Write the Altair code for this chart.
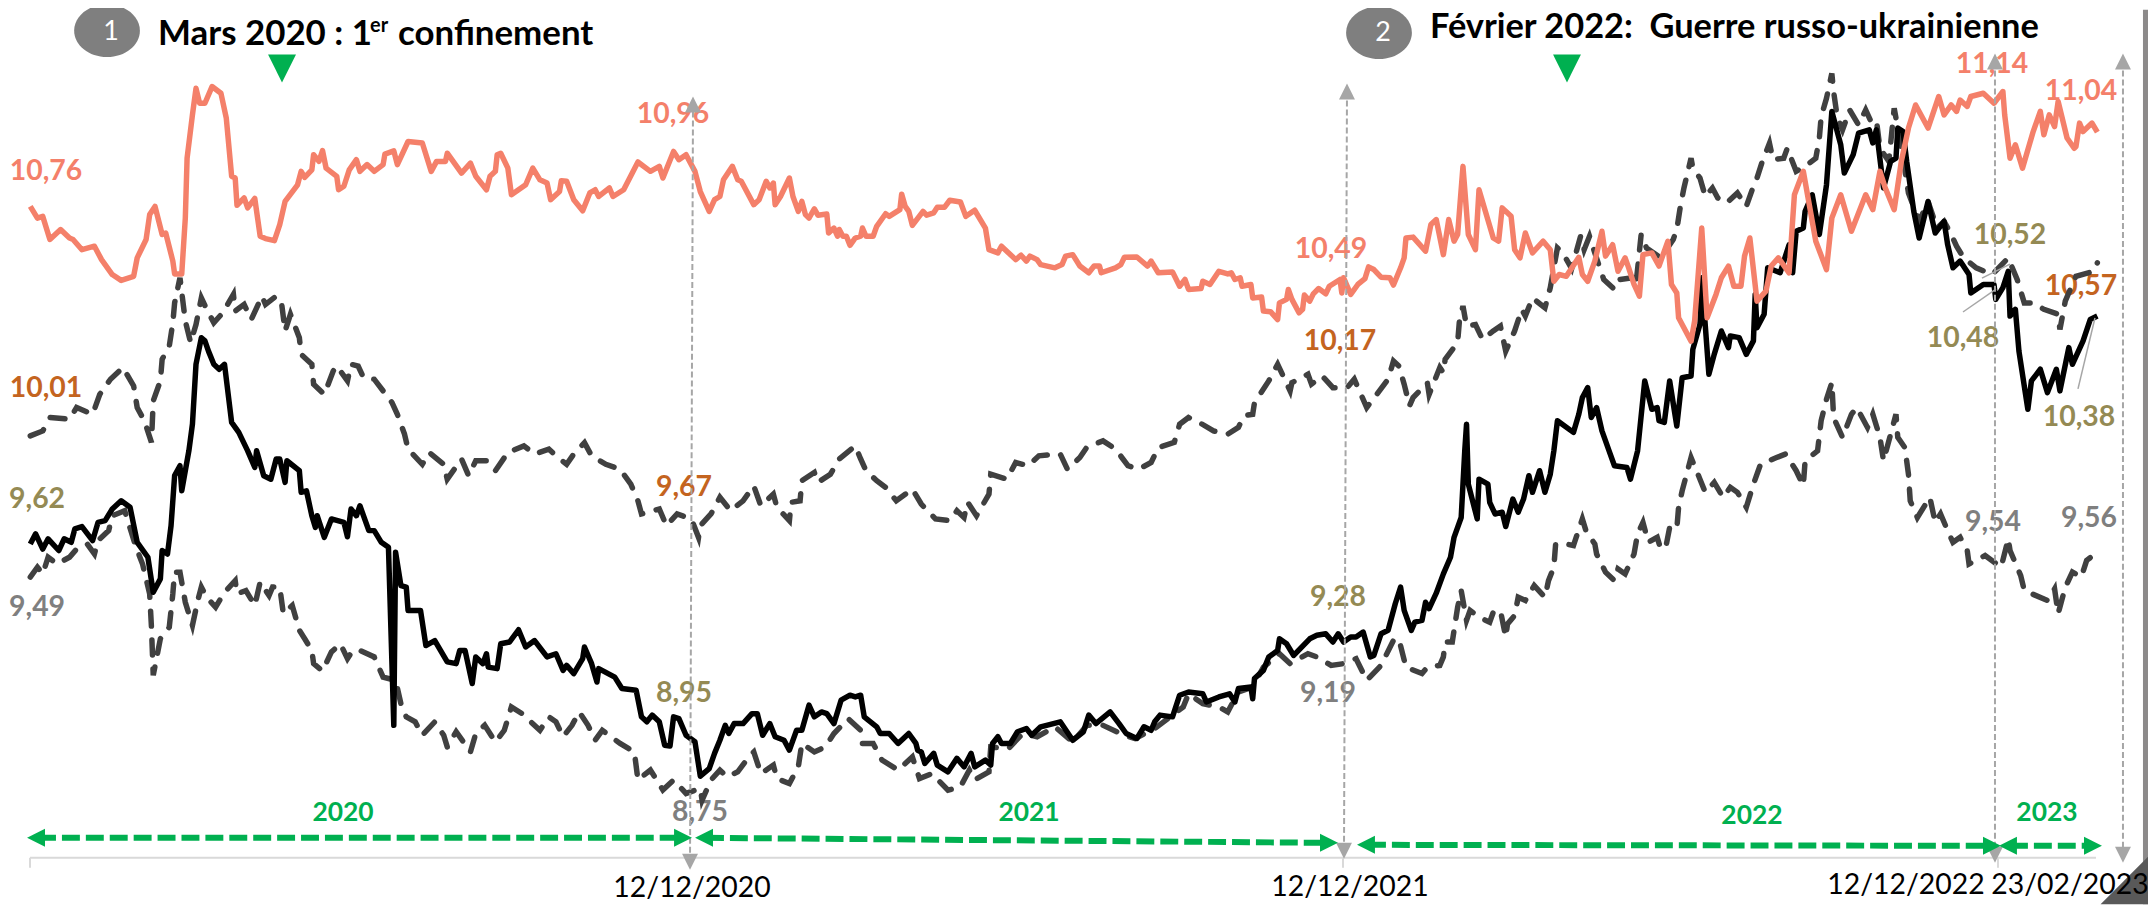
import altair as alt
import pandas as pd

# ---- data: day offsets from 5 Dec 2019 and values ----
salmon_days = [0,4,7,11,17,22,24,29,36,40,46,51,58,60,65,67,70,74,76,80,81,85,87,88,91,93,95,98,102,107,110,113,115,116,120,122,126,129,132,137,140,143,150,152,154,158,159,162,164,166,172,173,176,179,183,185,189,193,198,199,204,206,212,220,225,228,233,234,242,247,250,256,258,261,262,264,268,270,278,282,286,290,292,297,298,301,305,310,314,317,319,325,327,333,341,348,353,355,361,364,368,373,376,381,384,387,
 389,394,397,399,406,409,413,415,417,418,421,426,428,431,433,435,437,440,442,447,448,451,453,454,456,458,460,463,466,467,469,473,475,480,482,488,489,491,493,495,501,503,507,509,513,516,522,525,530,536,538,543,545,553,556,559,561,565,567,575,579,581,585,589,594,597,600,601,609,612,614,621,627,629,633,641,645,648,650,657,658,662,667,672,674,676,679,680,685,686,691,692,696,700,701,705,706,708,712,714,715,718,720,723,727,729,735,736,737,741,745,749,751,754,758,763,765,769,771,772,776,783,786,789,
 793,796,799,801,804,807,811,813,821,824,826,831,833,836,839,843,849,853,855,858,862,869,871,874,878,882,884,888,891,895,897,900,903,905,910,914,919,921,924,925,932,934,938,941,946,949,953,956,960,962,965,969,974,977,981,987,990,995,1002,1008,1011,1016,1022,1030,1034,1038,1041,1046,1050,1054,1058,1065,1071,1074,1078,1081,1083,1087,1089,1096,1102,1107,1108,1111,1114,1118,1124,1128,1130,1133,1136,1138,1143,1147,1148,1150,1152,1157,1160]
salmon_vals = [10.773,10.733,10.739,10.66,10.694,10.665,10.66,10.625,10.637,10.591,10.54,10.52,10.534,10.597,10.66,10.745,10.773,10.677,10.682,10.586,10.542,10.542,10.733,10.938,11.086,11.177,11.126,11.126,11.183,11.16,11.075,10.876,10.87,10.777,10.802,10.768,10.8,10.671,10.663,10.656,10.711,10.79,10.847,10.893,10.872,10.898,10.95,10.927,10.964,10.904,10.876,10.83,10.842,10.898,10.933,10.893,10.916,10.893,10.916,10.952,10.963,10.916,10.995,10.99,10.893,10.927,10.927,10.955,10.887,10.921,10.876,10.83,10.876,10.893,10.95,10.955,10.904,10.813,10.847,10.904,10.864,10.853,10.796,10.824,10.861,10.859,10.796,10.758,10.819,10.83,10.807,10.836,10.807,10.83,10.925,10.893,10.91,10.87,10.961,10.933,10.95,10.893,10.824,10.756,10.796,10.807,
 10.864,10.91,10.864,10.859,10.779,10.796,10.859,10.836,10.853,10.779,10.807,10.87,10.807,10.756,10.79,10.745,10.733,10.765,10.743,10.747,10.682,10.699,10.671,10.694,10.671,10.671,10.64,10.665,10.671,10.699,10.671,10.671,10.705,10.748,10.739,10.762,10.815,10.773,10.756,10.708,10.756,10.743,10.751,10.77,10.77,10.794,10.788,10.739,10.76,10.699,10.625,10.614,10.637,10.591,10.606,10.586,10.603,10.591,10.574,10.563,10.574,10.603,10.608,10.569,10.546,10.569,10.569,10.546,10.563,10.574,10.599,10.6,10.569,10.586,10.546,10.549,10.5,10.523,10.489,10.492,10.517,10.506,10.551,10.542,10.546,10.523,10.529,10.5,10.506,10.46,10.463,10.415,10.413,10.386,10.443,10.455,10.489,10.455,10.409,10.421,10.47,10.449,10.474,10.492,10.474,10.5,10.523,10.477,10.529,10.472,10.506,10.526,10.566,10.557,10.531,10.529,10.504,10.563,10.597,10.665,10.668,10.62,10.711,10.728,
 10.608,10.728,10.654,10.677,10.91,10.677,10.625,10.83,10.665,10.654,10.768,10.739,10.625,10.597,10.682,10.614,10.654,10.625,10.517,10.54,10.534,10.599,10.54,10.517,10.586,10.688,10.603,10.642,10.551,10.597,10.563,10.506,10.466,10.608,10.614,10.569,10.654,10.506,10.477,10.392,10.312,10.381,10.699,10.392,10.472,10.529,10.569,10.5,10.5,10.603,10.665,10.449,10.483,10.569,10.597,10.546,10.813,10.893,10.654,10.557,10.733,10.813,10.688,10.813,10.762,10.893,10.836,10.762,10.927,11.041,11.12,11.041,11.149,11.086,11.12,11.098,11.137,11.115,11.149,11.16,11.126,11.166,11.086,10.938,10.984,10.904,11.029,11.098,11.018,11.086,11.046,11.132,11.007,10.972,10.978,11.058,11.029,11.058,11.027]

black_days = [0,3,7,10,16,19,23,25,29,35,38,42,46,51,56,60,66,69,73,74,77,79,81,84,85,87,89,91,93,96,98,100,103,106,109,113,117,122,126,127,131,135,138,140,143,144,151,152,155,158,160,161,165,169,176,178,180,183,185,190,193,197,201,204,205,208,211,212,219,222,227,234,239,241,244,248,250,254,256,257,262,264,269,274,278,283,290,295,299,301,305,310,311,315,318,319,328,332,340,343,346,349,353,356,359,361,364,368,373,376,381,384,387,
 390,392,395,400,405,408,411,415,418,423,426,430,433,437,440,444,447,451,455,460,463,466,468,475,477,482,487,493,497,498,500,502,507,509,515,520,524,528,530,536,539,540,543,545,550,554,559,562,567,578,585,591,594,598,606,611,615,621,625,629,631,634,641,645,650,658,660,667,673,676,678,685,686,687,692,695,700,701,705,709,718,722,727,731,734,737,741,744,748,752,754,758,762,766,769,771,775,777,781,783,785,789,
 793,797,799,803,805,806,807,812,813,818,819,822,826,828,832,835,838,841,843,847,850,853,855,857,866,869,871,874,876,879,882,886,889,896,898,902,906,910,913,914,917,920,924,927,932,933,937,938,942,945,949,953,954,959,963,967,968,969,973,975,982,987,989,991,995,996,1000,1004,1008,1011,1016,1018,1023,1026,1032,1034,1036,1040,1044,1047,1048,1051,1053,1057,1060,1065,1069,1074,1076,1079,1083,1088,1089,1096,1102,1103,1107,1110,1111,1114,1116,1121,1123,1128,1132,1137,1139,1144,1146,1152,1156,1160]
black_vals = [9.618,9.653,9.601,9.636,9.596,9.636,9.624,9.67,9.678,9.63,9.692,9.698,9.738,9.766,9.744,9.624,9.573,9.453,9.499,9.596,9.584,9.681,9.852,9.886,9.8,9.869,9.937,10.028,10.233,10.324,10.313,10.278,10.233,10.216,10.233,10.034,10.0,9.937,9.88,9.937,9.852,9.84,9.909,9.909,9.829,9.903,9.869,9.795,9.8,9.715,9.675,9.715,9.641,9.704,9.692,9.643,9.738,9.715,9.749,9.664,9.664,9.624,9.607,8.998,9.59,9.476,9.471,9.391,9.391,9.271,9.288,9.215,9.209,9.254,9.254,9.141,9.232,9.209,9.243,9.197,9.192,9.277,9.283,9.325,9.266,9.288,9.232,9.243,9.186,9.203,9.175,9.226,9.266,9.209,9.146,9.192,9.163,9.124,9.118,9.027,9.01,9.033,9.01,8.93,8.927,9.027,9.021,8.964,8.942,8.824,8.85,8.902,8.947,
 8.998,8.97,9.004,9.004,9.038,9.038,8.964,9.004,8.959,8.947,8.913,8.981,8.981,9.067,9.027,9.044,9.038,9.004,9.084,9.101,9.095,9.101,9.027,8.993,8.97,8.97,8.936,8.97,8.936,8.913,8.907,8.868,8.902,8.862,8.839,8.885,8.856,8.902,8.856,8.879,8.862,8.936,8.959,8.936,8.936,8.976,8.987,8.964,8.993,9.01,8.947,8.976,9.033,9.004,9.044,9.004,8.97,8.953,8.993,8.981,9.01,9.033,9.027,9.101,9.112,9.106,9.078,9.095,9.106,9.078,9.124,9.129,9.089,9.158,9.186,9.232,9.254,9.294,9.277,9.237,9.294,9.306,9.311,9.283,9.311,9.283,9.3,9.3,9.317,9.232,9.237,9.311,9.323,9.414,9.471,9.391,9.323,9.351,9.357,9.419,9.397,9.45,
 9.516,9.573,9.641,9.709,9.937,10.028,9.823,9.704,9.84,9.823,9.761,9.721,9.727,9.678,9.772,9.727,9.772,9.852,9.795,9.869,9.795,9.857,9.937,10.04,10.0,10.062,10.119,10.153,10.051,10.085,10.005,9.937,9.886,9.88,9.84,9.937,10.176,10.079,10.085,10.04,10.034,10.176,10.022,10.187,10.193,10.284,10.37,10.529,10.199,10.267,10.347,10.29,10.33,10.324,10.267,10.313,10.472,10.358,10.404,10.563,10.546,10.642,10.546,10.688,10.699,10.756,10.813,10.677,10.847,11.098,10.984,10.887,10.95,11.024,11.035,10.99,11.035,10.836,10.927,10.938,11.041,11.029,10.927,10.756,10.665,10.79,10.682,10.722,10.642,10.563,10.586,10.54,10.477,10.506,10.506,10.455,10.495,10.551,10.398,10.421,10.278,10.079,10.176,10.216,10.136,10.216,10.142,10.29,10.233,10.313,10.386,10.398]

upper_days = [0,7,11,22,26,35,39,45,52,58,60,64,68,69,73,74,78,80,81,84,87,90,93,96,99,103,108,114,115,120,124,130,132,138,141,143,146,151,152,158,159,165,170,172,178,180,184,187,193,198,203,206,210,212,220,224,232,234,242,246,250,256,261,268,277,283,291,295,301,305,311,315,323,331,337,341,343,353,357,363,371,375,376,382,387,
 393,400,406,410,417,419,426,427,432,433,440,442,449,454,463,466,469,475,480,486,495,500,508,516,520,524,526,531,538,539,548,553,560,566,578,582,589,593,602,609,616,622,629,633,642,645,650,656,664,672,678,681,686,687,695,700,707,708,717,719,725,731,739,743,750,755,762,765,768,771,774,776,784,785,791,
 793,794,801,802,804,806,811,815,821,825,828,833,837,839,843,850,853,857,860,865,870,872,875,878,883,889,892,899,901,904,907,915,922,924,926,928,932,933,937,940,944,947,952,958,963,967,969,972,976,978,984,986,991,996,1002,1004,1005,1008,1011,1012,1014,1017,1021,1026,1030,1033,1036,1038,1043,1046,1048,1051,1054,1060,1065,1070,1074,1078,1081,1085,1092,1101,1110,1115,1119,1124,1130,1138,1139,1142,1146,1148,1158,1160]
upper_vals = [9.988,10.005,10.051,10.045,10.085,10.062,10.13,10.182,10.222,10.159,10.085,10.04,9.966,10.108,10.176,10.25,10.295,10.375,10.443,10.529,10.381,10.307,10.369,10.46,10.421,10.375,10.409,10.472,10.415,10.438,10.386,10.466,10.438,10.466,10.443,10.347,10.404,10.324,10.267,10.233,10.165,10.13,10.21,10.227,10.176,10.233,10.227,10.187,10.182,10.142,10.102,10.062,9.994,9.943,9.891,9.931,9.891,9.84,9.909,9.852,9.903,9.903,9.869,9.931,9.954,9.926,9.943,9.92,9.891,9.926,9.965,9.92,9.891,9.874,9.823,9.766,9.721,9.738,9.681,9.721,9.704,9.641,9.681,9.721,9.778,
 9.732,9.766,9.817,9.749,9.789,9.744,9.698,9.761,9.766,9.835,9.863,9.829,9.857,9.909,9.954,9.909,9.869,9.835,9.812,9.766,9.806,9.755,9.704,9.698,9.732,9.709,9.761,9.715,9.789,9.857,9.84,9.897,9.886,9.92,9.926,9.874,9.914,9.95,9.971,9.943,9.886,9.874,9.897,9.948,9.966,10.028,10.051,10.034,10.005,9.994,10.017,10.057,10.062,10.102,10.176,10.233,10.142,10.17,10.199,10.165,10.193,10.153,10.153,10.182,10.085,10.125,10.182,10.244,10.227,10.165,10.091,10.119,10.17,10.13,10.222,
 10.204,10.25,10.307,10.381,10.432,10.364,10.369,10.318,10.347,10.364,10.278,10.347,10.421,10.398,10.46,10.426,10.495,10.631,10.614,10.56,10.671,10.625,10.671,10.614,10.523,10.489,10.523,10.529,10.5,10.677,10.631,10.597,10.66,10.694,10.773,10.836,10.938,10.904,10.87,10.807,10.836,10.802,10.785,10.819,10.773,10.842,10.87,10.927,10.989,10.933,10.938,10.972,10.893,10.91,10.938,11.007,11.08,11.143,11.228,11.166,11.08,11.035,11.103,11.052,11.103,11.063,11.069,10.972,10.927,11.109,11.041,10.938,10.819,10.722,10.79,10.699,10.722,10.677,10.637,10.597,10.563,10.54,10.597,10.523,10.443,10.443,10.421,10.404,10.352,10.449,10.506,10.534,10.551,10.58]

lower_days = [0,4,7,10,15,22,26,32,36,38,44,46,53,59,63,67,68,69,73,78,80,81,84,86,87,91,94,96,99,104,109,115,116,121,126,129,134,136,140,142,147,151,154,158,159,164,169,174,178,181,185,193,198,205,208,211,216,220,227,232,234,239,247,250,255,261,266,270,276,286,291,295,299,304,308,313,317,321,331,339,341,348,355,361,368,376,377,382,387,
 391,397,404,406,410,417,419,426,431,433,440,446,451,459,466,467,473,478,487,495,499,506,515,522,527,530,538,539,549,557,565,575,585,593,602,614,620,631,641,647,650,658,667,672,678,686,692,701,707,717,722,730,737,744,750,758,765,768,772,781,784,791,
 793,794,798,799,801,803,806,808,813,819,821,825,828,829,833,835,839,844,850,852,855,856,862,866,871,873,878,879,884,889,891,895,900,902,905,908,913,915,918,920,924,925,927,932,937,940,945,950,954,958,963,967,971,980,985,991,995,996,1003,1005,1008,1011,1012,1017,1022,1025,1031,1034,1038,1040,1047,1048,1052,1054,1055,1059,1066,1069,1072,1076,1079,1083,1087,1088,1097,1106,1110,1111,1115,1117,1119,1132,1136,1138,1142,1146,1151,1154,1160]
lower_vals = [9.505,9.539,9.516,9.573,9.55,9.573,9.601,9.618,9.584,9.63,9.664,9.715,9.732,9.613,9.55,9.448,9.334,9.169,9.294,9.334,9.448,9.522,9.522,9.453,9.419,9.34,9.425,9.471,9.436,9.402,9.453,9.493,9.448,9.459,9.408,9.488,9.442,9.471,9.471,9.38,9.408,9.323,9.294,9.254,9.209,9.184,9.249,9.277,9.226,9.254,9.254,9.232,9.163,9.152,9.072,9.027,9.01,8.964,9.01,8.964,8.924,8.976,8.907,8.97,8.998,8.941,8.981,9.061,9.038,8.981,9.027,9.01,8.959,8.998,9.044,8.998,8.947,8.981,8.936,8.907,8.811,8.845,8.777,8.811,8.765,8.782,8.742,8.811,8.845,
 8.822,8.839,8.896,8.907,8.833,8.862,8.816,8.799,8.856,8.936,8.907,8.924,8.97,9.021,8.981,8.936,8.936,8.879,8.845,8.89,8.816,8.833,8.776,8.788,8.845,8.811,8.839,8.924,8.919,8.97,8.959,8.993,8.941,8.998,8.998,8.964,8.953,8.987,9.033,9.061,9.106,9.072,9.061,9.044,9.112,9.129,9.197,9.243,9.209,9.243,9.232,9.203,9.209,9.226,9.152,9.203,9.289,9.294,9.197,9.175,9.197,9.203,
 9.232,9.283,9.283,9.323,9.402,9.459,9.357,9.391,9.368,9.351,9.385,9.391,9.3,9.345,9.374,9.436,9.425,9.476,9.436,9.493,9.539,9.618,9.618,9.613,9.704,9.664,9.618,9.584,9.522,9.493,9.533,9.516,9.584,9.653,9.692,9.624,9.641,9.601,9.613,9.675,9.67,9.744,9.8,9.914,9.84,9.795,9.829,9.778,9.812,9.795,9.744,9.823,9.891,9.914,9.926,9.869,9.818,9.903,9.937,10.04,10.113,10.17,10.051,9.983,10.062,10.085,10.017,10.062,9.983,9.903,10.062,9.983,9.948,9.857,9.766,9.709,9.778,9.692,9.721,9.664,9.624,9.641,9.596,9.55,9.579,9.539,9.636,9.596,9.539,9.51,9.459,9.425,9.465,9.38,9.47,9.522,9.505,9.562,9.59]

SALMON, ORANGE, OLIVE, GRAY, GREEN, ARROW = "#F4806A", "#C4641F", "#948A54", "#7F7F7F", "#00B050", "#A6A6A6"

value_labels = ["10,76","10,01","9,62","9,49","10,96","9,67","8,95","8,75","10,49","10,17","9,28","9,19","11,14","11,04","10,52","10,57","10,48","10,38","9,54","9,56"]
label_colors = [SALMON,ORANGE,OLIVE,GRAY,SALMON,ORANGE,OLIVE,GRAY,SALMON,ORANGE,OLIVE,GRAY,SALMON,SALMON,OLIVE,ORANGE,OLIVE,OLIVE,GRAY,GRAY]
label_px = [46,46,37,37,673,684,684,700,1331,1340,1338,1328,1992,2081,2010,2081,1963,2079,1993,2089]
label_py = [170,387,498,607,113,486,693,812,248,340,597,693,62,90,234,285,337,416,521,517]

# ---- page geometry ----
W, H = 2148, 898
SX = 2156 / 2164
SY = 0.9985
def D(px): return (px - 30.25) / 1.782
def V(py): return 9.62 + (543 - py) / 293.0

X_SCALE = alt.Scale(domain=[D(8 * SX), D((8 + W) * SX)], range=[0, W], nice=False, zero=False)
Y_SCALE = alt.Scale(domain=[V((8 + H) * SY), V(8 * SY)], range=[H, 0], nice=False, zero=False)
X = lambda f="x": alt.X(f"{f}:Q", scale=X_SCALE, axis=None, title=None)
Y = lambda f="y": alt.Y(f"{f}:Q", scale=Y_SCALE, axis=None, title=None)

def series(days, vals, color, width, dash=None):
    df = pd.DataFrame({"x": days, "y": vals})
    kw = dict(color=color, strokeWidth=width, clip=True)
    if dash:
        kw.update(strokeDash=dash, strokeCap="round")
    else:
        kw.update(strokeJoin="round")
    return alt.Chart(df).mark_line(**kw).encode(X(), Y())

def seg(p0, p1, color, width, dash=None):
    df = pd.DataFrame({"x": [D(p0[0]), D(p1[0])], "y": [V(p0[1]), V(p1[1])]})
    kw = dict(color=color, strokeWidth=width)
    if dash:
        kw["strokeDash"] = dash
    return alt.Chart(df).mark_line(**kw).encode(X(), Y())

def sym(p, shape, size, color):
    df = pd.DataFrame({"x": [D(p[0])], "y": [V(p[1])]})
    return alt.Chart(df).mark_point(shape=shape, size=size, fill=color, filled=True, opacity=1,
                                    strokeWidth=0).encode(X(), Y())

def txt(p, s, size, color, weight="normal", align="center"):
    df = pd.DataFrame({"x": [D(p[0])], "y": [V(p[1])], "t": [s]})
    return alt.Chart(df).mark_text(fontSize=size, font="Lato", fontWeight=weight, color=color,
                                   align=align, baseline="middle").encode(X(), Y(), text="t:N")

UP, DOWN = "M0,-1 L1,1 L-1,1 Z", "M-1,-1 L1,-1 L0,1 Z"
LEFT, RIGHT = "M-1,0 L1,-1 L1,1 Z", "M1,0 L-1,-1 L-1,1 Z"
ELLIPSE = "M-1,0 A1,0.8 0 1,1 1,0 A1,0.8 0 1,1 -1,0 Z"

layers = []

# right frame strip and corner
strip = pd.DataFrame({"x": [D(2143)], "x2": [D(2164)], "y": [V(0)], "y2": [V(914)]})
layers.append(alt.Chart(strip).mark_rect(color="#8C8A8A", clip=True).encode(X(), x2="x2:Q", y=Y(), y2="y2:Q"))
layers.append(sym((2127, 878), "M1,-1 L1,1 L-1,1 Z", 2809, "#595959"))

# axis line
layers.append(seg((30, 858), (2096, 858), "#D9D9D9", 2))
for tx in (30, 690, 1343, 1998):
    layers.append(seg((tx, 858), (tx, 868), "#D9D9D9", 2))

# value labels
lab = pd.DataFrame({"x": [D(p) for p in label_px], "y": [V(p) for p in label_py],
                    "t": value_labels, "c": label_colors})
layers.append(alt.Chart(lab).mark_text(fontSize=28.5, font="Lato", fontWeight="bold", align="center", baseline="middle")
              .encode(X(), Y(), text="t:N", color=alt.Color("c:N", scale=None, legend=None)))

# series
layers.append(series(lower_days, lower_vals, "#404040", 5.5, [15, 14]))
layers.append(series(upper_days, upper_vals, "#404040", 5.5, [15, 14]))
layers.append(series(black_days, black_vals, "#000000", 5.5))
layers.append(series(salmon_days, salmon_vals, SALMON, 5.5))

# leaders
layers.append(seg((1963, 311), (1996, 288), ARROW, 1.5))
layers.append(seg((2010, 263), (1982, 277), ARROW, 1.5))
layers.append(seg((2078, 388), (2095, 317), ARROW, 1.5))

# vertical date arrows
for (xt, yt, xb, yb) in [(693, 103, 690, 862), (1347, 90, 1344, 851), (1995, 60, 1995, 855), (2123, 60, 2123, 855)]:
    layers.append(seg((xt, yt), (xb, yb), ARROW, 2, [6, 3]))
    layers.append(sym((xt, yt), UP, 256, ARROW))
    layers.append(sym((xb, yb), DOWN, 256, ARROW))

# year spans
for (a, b, y0, y1, name, lx, ly) in [
    (28, 691, 838, 838, "2020", 343, 813),
    (696, 1337, 838, 843, "2021", 1029, 813),
    (1358, 2000, 845, 846, "2022", 1752, 816),
    (2000, 2101, 846, 846, "2023", 2047, 813),
]:
    layers.append(seg((a + 10, y0), (b - 10, y1), GREEN, 6, [18, 6]))
    layers.append(sym((a + 8, y0), LEFT, 324, GREEN))
    layers.append(sym((b - 8, y1), RIGHT, 324, GREEN))
    layers.append(txt((lx, ly), name, 26.5, GREEN, "bold"))

# event headers
layers.append(sym((107, 29), ELLIPSE, 4356, "#7F7F7F"))
layers.append(txt((111, 30), "1", 27, "#FFFFFF"))
layers.append(sym((1379, 31), ELLIPSE, 4356, "#7F7F7F"))
layers.append(txt((1383, 31), "2", 27, "#FFFFFF"))
layers.append(txt((158, 32), "Mars 2020 : 1", 35, "#000000", "bold", "left"))
layers.append(txt((370, 24), "er", 20, "#000000", "bold", "left"))
layers.append(txt((398, 32), "confinement", 35, "#000000", "bold", "left"))
layers.append(txt((1430, 26), "Février 2022:\u00a0 Guerre russo-ukrainienne", 34.5, "#000000", "bold", "left"))
layers.append(sym((282, 67), DOWN, 784, GREEN))
layers.append(sym((1567, 67), DOWN, 784, GREEN))

# date labels
for (s, x0, y0) in [("12/12/2020", 692, 888), ("12/12/2021", 1350, 887), ("12/12/2022", 1906, 885), ("23/02/2023", 2070, 885)]:
    layers.append(txt((x0, y0), s, 28.5, "#000000"))

chart = alt.layer(*layers).properties(
    width=W, height=H, padding=0, background="#FFFFFF",
    autosize=alt.AutoSizeParams(type="none"),
).configure_view(stroke=None)

chart.save("out.html", embed_options={"renderer": "svg", "actions": False})
